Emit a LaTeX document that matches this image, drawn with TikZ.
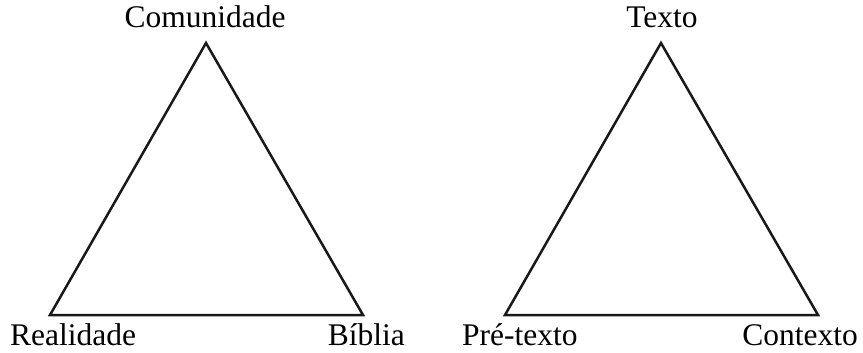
\documentclass[tikz,border=0pt]{standalone}
\usepackage{fontspec}
\setmainfont{Liberation Serif}
\begin{document}
\begin{tikzpicture}[x=1pt,y=-1pt,
  lbl/.style={inner sep=0pt,font=\fontsize{31.5}{36}\selectfont},
  tri/.style={draw=black!90,line width=2.5pt,line join=miter}]
\useasboundingbox (0,0) rectangle (863,353);
% left triangle
\coordinate (la) at (206,43);
\coordinate (lb) at (50,315);
\coordinate (lc) at (363,315);
\draw[tri] (la) -- (lb) -- (lc) -- cycle;
\node[lbl,anchor=base] (com) at (205,28) {Comunidade};
\node[lbl,anchor=base west] (rea) at (10,345) {Realidade};
\node[lbl,anchor=base east] (bib) at (405,345) {Bíblia};
% right triangle
\coordinate (ra) at (661,43);
\coordinate (rb) at (505,315);
\coordinate (rc) at (818,315);
\draw[tri] (ra) -- (rb) -- (rc) -- cycle;
\node[lbl,anchor=base] (tex) at (662,28) {Texto};
\node[lbl,anchor=base west] (pre) at (462,345) {Pré-texto};
\node[lbl,anchor=base east] (con) at (858,345) {Contexto};
\end{tikzpicture}
\end{document}
